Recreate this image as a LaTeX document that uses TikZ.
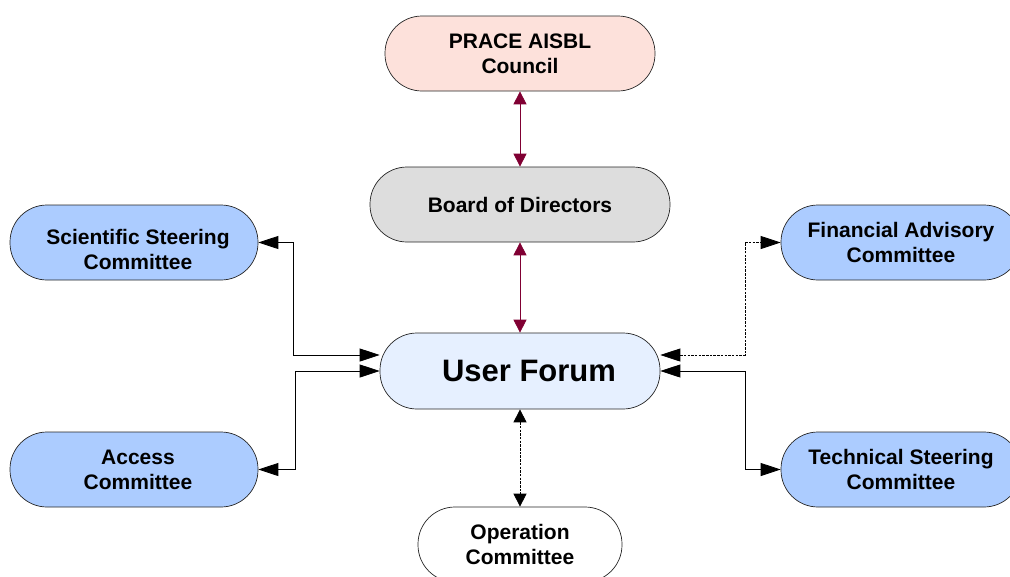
\documentclass[tikz,border=0pt]{standalone}
\usepackage{fontspec}
\setmainfont{Liberation Sans}
\usetikzlibrary{arrows.meta}
\definecolor{councilpink}{RGB}{253,225,219}
\definecolor{boardgrey}{RGB}{221,221,221}
\definecolor{forumblue}{RGB}{230,240,255}
\definecolor{cmteblue}{RGB}{172,204,255}
\definecolor{linkred}{RGB}{128,0,51}

\begin{document}
\begin{tikzpicture}[line cap=butt,line join=miter,x=1pt,y=-1pt,
  body/.style={draw=black!85,line width=0.7pt,rounded corners=37pt,minimum height=75pt,
    inner sep=0pt,align=center,font=\fontsize{21}{25}\selectfont\bfseries},
  cmte/.style={body,fill=cmteblue},
  vlink/.style={{Triangle[length=13pt,width=13pt]}-{Triangle[length=13pt,width=13pt]},line width=0.8pt},
  hlink/.style={{Triangle[length=20pt,width=13pt]}-{Triangle[length=20pt,width=13pt]},line width=0.8pt},
  fine/.style={dash pattern=on 2.5pt off 1.2pt}]
\useasboundingbox (0,0) rectangle (1010,576);
% governing bodies
\node [body,fill=councilpink,minimum width=270pt] (council) at (520,53.5) {PRACE AISBL\\Council};
\node [body,fill=boardgrey,minimum width=300pt] (board) at (520,204.5) {Board of Directors};
\node [body,fill=forumblue,minimum width=280pt,minimum height=76pt,font=\fontsize{31}{36}\selectfont\bfseries] (uf) at (520,371) {\hspace*{18pt}User Forum};
\node [body,fill=white,minimum width=204pt] (op) at (520,544.5) {Operation\\Committee};
% committees
\node [cmte,minimum width=248pt] (sci) at (134,242.5) {\rule{0pt}{29pt}\hspace*{8pt}Scientific Steering\\\hspace*{8pt}Committee};
\node [cmte,minimum width=248pt] (acc) at (134,469.5) {\hspace*{8pt}Access\\\hspace*{8pt}Committee};
\node [cmte,minimum width=240pt] (fin) at (901,242.5) {Financial Advisory\\Committee};
\node [cmte,minimum width=240pt] (tech) at (901,469.5) {Technical Steering\\Committee};
% links
\draw [vlink,linkred] (council) -- (board);
\draw [vlink,linkred] (board) -- (uf);
\draw [vlink,fine] (uf) -- (op);
\coordinate (sj) at (293,355);
\coordinate (aj) at (295,371);
\coordinate (fj) at (745,355);
\coordinate (tj) at (745,371);
\draw [hlink] (uf.west |- sj) -- (sj) |- (sci.east);
\draw [hlink] (uf.west |- aj) -- (aj) |- (acc.east);
\draw [hlink,fine] (uf.east |- fj) -- (fj) |- (fin.west);
\draw [hlink] (uf.east |- tj) -- (tj) |- (tech.west);
\end{tikzpicture}
\end{document}
